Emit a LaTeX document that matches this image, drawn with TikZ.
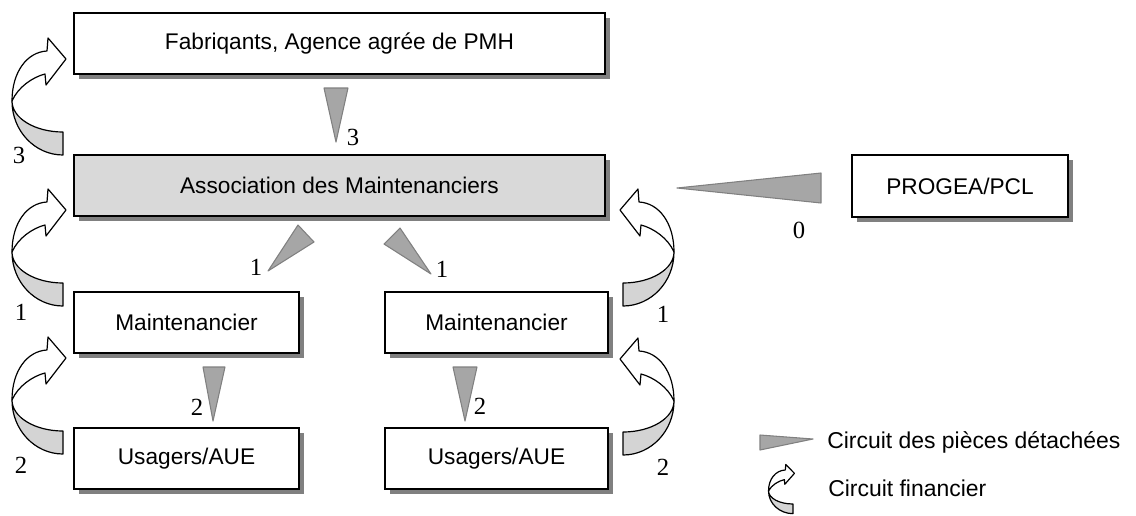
\documentclass[tikz,border=0pt]{standalone}
\usepackage{fontspec}
\setmainfont{Liberation Sans}
\newfontfamily\numfont{Liberation Serif}
\usetikzlibrary{shadows}
\definecolor{shade}{HTML}{808080}
\definecolor{panel}{HTML}{D9D9D9}
\definecolor{wedgefill}{HTML}{A6A6A6}
\definecolor{backface}{HTML}{D4D4D4}
\begin{document}
\begin{tikzpicture}[x=0.75pt,y=-0.75pt,
  box/.style={draw=black, line width=1.1pt, fill=white, inner sep=0pt, outer sep=0pt,
    anchor=north west, minimum height=45.75pt, font=\fontsize{17}{20}\selectfont,
    drop shadow={shadow xshift=3.75pt, shadow yshift=-3.75pt, fill=shade, opacity=1}},
  wedge/.style={fill=wedgefill, draw=shade, line width=0.8pt, line join=round},
  num/.style={font=\numfont\fontsize{18.5}{20}\selectfont, inner sep=0pt},
  legendtext/.style={font=\fontsize{17.2}{20}\selectfont, inner sep=0pt, anchor=west},
  ribbon/.style={draw=black, line width=0.9pt, line join=round},
  finarrow/.pic={
    % back face of the twisted ribbon
    \draw[ribbon, fill=backface] (0,23)
      arc[start angle=90, end angle=180, x radius=51, y radius=54]
      arc[start angle=180, end angle=90, x radius=51, y radius=31]
      -- cycle;
    % front face with the arrow head
    \draw[ribbon, fill=white] (-51,-31)
      .. controls (-51,-60) and (-36,-80) .. (-16,-81)
      -- (-15,-94) -- (3,-73) -- (-17,-47) -- (-18,-58)
      .. controls (-30,-55) and (-45,-45) .. (-51,-31) -- cycle;
  }
]
\useasboundingbox (0,0) rectangle (1136,515);

% boxes
\node[box, minimum width=398.25pt] (fab) at (74,13) {Fabriqants, Agence agrée de PMH};
\node[box, fill=panel, minimum width=398.25pt] (assoc) at (74,155) {Association des Maintenanciers};
\node[box, minimum width=162pt, minimum height=46.5pt] (progea) at (852,155) {PROGEA/PCL};
\node[box, minimum width=168.75pt] (mL) at (74,292) {Maintenancier};
\node[box, minimum width=167.25pt] (mR) at (385,292) {Maintenancier};
\node[box, minimum width=168.75pt] (uL) at (74,428) {Usagers/AUE};
\node[box, minimum width=167.25pt] (uR) at (385,428) {Usagers/AUE};

% spare parts flow
\filldraw[wedge] (324,88) -- (348,88) -- (336,142) -- cycle;
\filldraw[wedge] (298,225) -- (314,242) -- (268,271) -- cycle;
\filldraw[wedge] (400,228) -- (384,244) -- (431,274) -- cycle;
\filldraw[wedge] (677,188) -- (821,173) -- (821,203) -- cycle;
\filldraw[wedge] (203,367) -- (225,367) -- (213,421) -- cycle;
\filldraw[wedge] (453,367) -- (477,367) -- (465,421) -- cycle;

% financial flow
\pic at (63,132) {finarrow};
\pic at (63,283) {finarrow};
\pic at (63,431) {finarrow};
\pic[xscale=-1] at (623,283) {finarrow};
\pic[xscale=-1] at (623,432) {finarrow};

% step numbers
\node[num] (s3a) at (353,137) {3};
\node[num] (s1a) at (256,267) {1};
\node[num] (s1b) at (442,269) {1};
\node[num] (s0) at (799,230) {0};
\node[num] (s2a) at (197,407) {2};
\node[num] (s2b) at (480,406) {2};
\node[num] (f3) at (19,155) {3};
\node[num] (f1l) at (21,312) {1};
\node[num] (f2l) at (21,465) {2};
\node[num] (f1r) at (663,314) {1};
\node[num] (f2r) at (663,467) {2};

% legend
\filldraw[wedge] (760,435) -- (813,439) -- (760,450) -- cycle;
\node[legendtext] (lg1) at (827,442) {Circuit des pièces détachées};
\pic[xscale=0.48, yscale=0.42] at (793,504) {finarrow};
\node[legendtext] (lg2) at (828,488) {Circuit financier};
\end{tikzpicture}
\end{document}
